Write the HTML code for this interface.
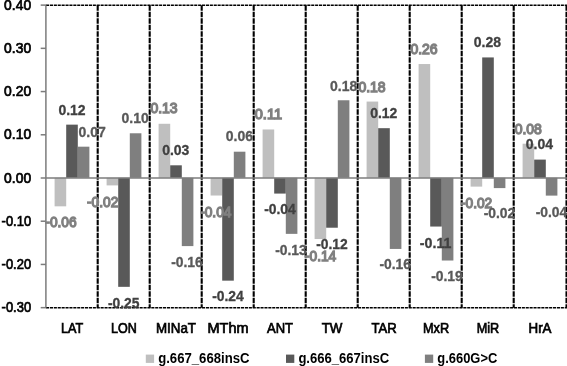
<!DOCTYPE html><html><head><meta charset="utf-8"><title>chart</title><style>html,body{margin:0;padding:0;background:#fff;overflow:hidden}svg{display:block;will-change:transform}text{font-family:"Liberation Sans",sans-serif}</style></head><body>
<svg width="567" height="366" viewBox="0 0 567 366">
<rect width="567" height="366" fill="#fff"/>
<g stroke="#000" fill="none">
<line x1="46.0" y1="5.2" x2="567" y2="5.2" stroke-width="1.6" stroke-dasharray="3.1 0.8"/>
<line x1="46.0" y1="307.7" x2="567" y2="307.7" stroke-width="1.6" stroke-dasharray="3.1 0.8"/>
<line x1="97.7" y1="5.2" x2="97.7" y2="307.7" stroke-width="2.1" stroke-dasharray="5.5 1"/>
<line x1="149.7" y1="5.2" x2="149.7" y2="307.7" stroke-width="2.1" stroke-dasharray="5.5 1"/>
<line x1="201.7" y1="5.2" x2="201.7" y2="307.7" stroke-width="2.1" stroke-dasharray="5.5 1"/>
<line x1="253.7" y1="5.2" x2="253.7" y2="307.7" stroke-width="2.1" stroke-dasharray="5.5 1"/>
<line x1="305.7" y1="5.2" x2="305.7" y2="307.7" stroke-width="2.1" stroke-dasharray="5.5 1"/>
<line x1="357.7" y1="5.2" x2="357.7" y2="307.7" stroke-width="2.1" stroke-dasharray="5.5 1"/>
<line x1="409.7" y1="5.2" x2="409.7" y2="307.7" stroke-width="2.1" stroke-dasharray="5.5 1"/>
<line x1="461.7" y1="5.2" x2="461.7" y2="307.7" stroke-width="2.1" stroke-dasharray="5.5 1"/>
<line x1="513.7" y1="5.2" x2="513.7" y2="307.7" stroke-width="2.1" stroke-dasharray="5.5 1"/>
<line x1="566.5" y1="5.2" x2="566.5" y2="307.7" stroke-width="2.1" stroke-dasharray="5.5 1"/>
</g>
<rect x="54.60" y="177.80" width="11.6" height="28.53" fill="#BFBFBF"/>
<rect x="66.20" y="124.64" width="11.6" height="53.16" fill="#595959"/>
<rect x="77.80" y="146.68" width="11.6" height="31.12" fill="#7F7F7F"/>
<rect x="106.60" y="177.80" width="11.6" height="7.61" fill="#BFBFBF"/>
<rect x="118.20" y="177.80" width="11.6" height="109.04" fill="#595959"/>
<rect x="129.80" y="133.28" width="11.6" height="44.52" fill="#7F7F7F"/>
<rect x="158.60" y="123.78" width="11.6" height="54.03" fill="#BFBFBF"/>
<rect x="170.20" y="165.31" width="11.6" height="12.49" fill="#595959"/>
<rect x="181.80" y="177.80" width="11.6" height="68.29" fill="#7F7F7F"/>
<rect x="210.60" y="177.80" width="11.6" height="17.72" fill="#BFBFBF"/>
<rect x="222.20" y="177.80" width="11.6" height="102.86" fill="#595959"/>
<rect x="233.80" y="151.70" width="11.6" height="26.10" fill="#7F7F7F"/>
<rect x="262.60" y="129.48" width="11.6" height="48.32" fill="#BFBFBF"/>
<rect x="274.20" y="177.80" width="11.6" height="15.78" fill="#595959"/>
<rect x="285.80" y="177.80" width="11.6" height="56.06" fill="#7F7F7F"/>
<rect x="314.60" y="177.80" width="11.6" height="61.24" fill="#BFBFBF"/>
<rect x="326.20" y="177.80" width="11.6" height="49.92" fill="#595959"/>
<rect x="337.80" y="100.26" width="11.6" height="77.54" fill="#7F7F7F"/>
<rect x="366.60" y="101.56" width="11.6" height="76.24" fill="#BFBFBF"/>
<rect x="378.20" y="128.18" width="11.6" height="49.62" fill="#595959"/>
<rect x="389.80" y="177.80" width="11.6" height="71.14" fill="#7F7F7F"/>
<rect x="418.60" y="64.04" width="11.6" height="113.76" fill="#BFBFBF"/>
<rect x="430.20" y="177.80" width="11.6" height="48.75" fill="#595959"/>
<rect x="441.80" y="177.80" width="11.6" height="82.72" fill="#7F7F7F"/>
<rect x="470.60" y="177.80" width="11.6" height="8.82" fill="#BFBFBF"/>
<rect x="482.20" y="57.43" width="11.6" height="120.37" fill="#595959"/>
<rect x="493.80" y="177.80" width="11.6" height="10.29" fill="#7F7F7F"/>
<rect x="522.60" y="143.70" width="11.6" height="34.10" fill="#BFBFBF"/>
<rect x="534.20" y="159.60" width="11.6" height="18.20" fill="#595959"/>
<rect x="545.80" y="177.80" width="11.6" height="17.81" fill="#7F7F7F"/>
<g stroke="#7c7c7c" stroke-width="1.5" fill="none">
<line x1="45.9" y1="5.2" x2="45.9" y2="307.7"/>
<line x1="46.0" y1="178.00" x2="567" y2="178.00"/>
<line x1="40.7" y1="5.12" x2="46.0" y2="5.12"/>
<line x1="40.7" y1="48.34" x2="46.0" y2="48.34"/>
<line x1="40.7" y1="91.56" x2="46.0" y2="91.56"/>
<line x1="40.7" y1="134.78" x2="46.0" y2="134.78"/>
<line x1="40.7" y1="178.00" x2="46.0" y2="178.00"/>
<line x1="40.7" y1="221.22" x2="46.0" y2="221.22"/>
<line x1="40.7" y1="264.44" x2="46.0" y2="264.44"/>
<line x1="40.7" y1="307.66" x2="46.0" y2="307.66"/>
</g>
<g opacity="0.999">
<text x="31.1" y="9.62" font-size="14" text-anchor="end" fill="#000" stroke="#000" stroke-width="0.7" textLength="27" lengthAdjust="spacingAndGlyphs">0.40</text>
<text x="31.1" y="52.84" font-size="14" text-anchor="end" fill="#000" stroke="#000" stroke-width="0.7" textLength="27" lengthAdjust="spacingAndGlyphs">0.30</text>
<text x="31.1" y="96.06" font-size="14" text-anchor="end" fill="#000" stroke="#000" stroke-width="0.7" textLength="27" lengthAdjust="spacingAndGlyphs">0.20</text>
<text x="31.1" y="139.28" font-size="14" text-anchor="end" fill="#000" stroke="#000" stroke-width="0.7" textLength="27" lengthAdjust="spacingAndGlyphs">0.10</text>
<text x="31.1" y="182.50" font-size="14" text-anchor="end" fill="#000" stroke="#000" stroke-width="0.7" textLength="27" lengthAdjust="spacingAndGlyphs">0.00</text>
<text x="31.1" y="225.72" font-size="14" text-anchor="end" fill="#000" stroke="#000" stroke-width="0.7" textLength="29.5" lengthAdjust="spacingAndGlyphs">-0.10</text>
<text x="31.1" y="268.94" font-size="14" text-anchor="end" fill="#000" stroke="#000" stroke-width="0.7" textLength="29.5" lengthAdjust="spacingAndGlyphs">-0.20</text>
<text x="31.1" y="312.16" font-size="14" text-anchor="end" fill="#000" stroke="#000" stroke-width="0.7" textLength="29.5" lengthAdjust="spacingAndGlyphs">-0.30</text>
<text x="72.0" y="333" font-size="14" text-anchor="middle" fill="#000" stroke="#000" stroke-width="0.7" textLength="22.2" lengthAdjust="spacingAndGlyphs">LAT</text>
<text x="124.0" y="333" font-size="14" text-anchor="middle" fill="#000" stroke="#000" stroke-width="0.7" textLength="25.8" lengthAdjust="spacingAndGlyphs">LON</text>
<text x="176.0" y="333" font-size="14" text-anchor="middle" fill="#000" stroke="#000" stroke-width="0.7" textLength="40" lengthAdjust="spacingAndGlyphs">MINaT</text>
<text x="228.0" y="333" font-size="14" text-anchor="middle" fill="#000" stroke="#000" stroke-width="0.7" textLength="41" lengthAdjust="spacingAndGlyphs">MThm</text>
<text x="280.0" y="333" font-size="14" text-anchor="middle" fill="#000" stroke="#000" stroke-width="0.7" textLength="26" lengthAdjust="spacingAndGlyphs">ANT</text>
<text x="332.0" y="333" font-size="14" text-anchor="middle" fill="#000" stroke="#000" stroke-width="0.7" textLength="20.7" lengthAdjust="spacingAndGlyphs">TW</text>
<text x="384.0" y="333" font-size="14" text-anchor="middle" fill="#000" stroke="#000" stroke-width="0.7" textLength="25.2" lengthAdjust="spacingAndGlyphs">TAR</text>
<text x="436.0" y="333" font-size="14" text-anchor="middle" fill="#000" stroke="#000" stroke-width="0.7" textLength="26.2" lengthAdjust="spacingAndGlyphs">MxR</text>
<text x="488.0" y="333" font-size="14" text-anchor="middle" fill="#000" stroke="#000" stroke-width="0.7" textLength="22.5" lengthAdjust="spacingAndGlyphs">MiR</text>
<text x="540.0" y="333" font-size="14" text-anchor="middle" fill="#000" stroke="#000" stroke-width="0.7" textLength="23" lengthAdjust="spacingAndGlyphs">HrA</text>
<text x="61" y="226.9" font-size="14" text-anchor="middle" fill="#808080" stroke="#808080" stroke-width="1.3" textLength="31.3" lengthAdjust="spacingAndGlyphs">-0.06</text>
<text x="72" y="114.7" font-size="14" font-weight="bold" text-anchor="middle" fill="#404040" stroke="#404040" stroke-width="0.3" textLength="27.2" lengthAdjust="spacingAndGlyphs">0.12</text>
<text x="92.1" y="137" font-size="14" font-weight="bold" text-anchor="middle" fill="#595959" stroke="#595959" stroke-width="0.3" textLength="27.2" lengthAdjust="spacingAndGlyphs">0.07</text>
<text x="102.7" y="206.6" font-size="14" text-anchor="middle" fill="#808080" stroke="#808080" stroke-width="1.3" textLength="31.3" lengthAdjust="spacingAndGlyphs">-0.02</text>
<text x="123.7" y="307.5" font-size="14" font-weight="bold" text-anchor="middle" fill="#404040" stroke="#404040" stroke-width="0.3" textLength="31.6" lengthAdjust="spacingAndGlyphs">-0.25</text>
<text x="135.1" y="122.8" font-size="14" font-weight="bold" text-anchor="middle" fill="#595959" stroke="#595959" stroke-width="0.3" textLength="27.2" lengthAdjust="spacingAndGlyphs">0.10</text>
<text x="164" y="113" font-size="14" text-anchor="middle" fill="#808080" stroke="#808080" stroke-width="1.3" textLength="27.2" lengthAdjust="spacingAndGlyphs">0.13</text>
<text x="175.8" y="154.7" font-size="14" font-weight="bold" text-anchor="middle" fill="#404040" stroke="#404040" stroke-width="0.3" textLength="27.2" lengthAdjust="spacingAndGlyphs">0.03</text>
<text x="187" y="267" font-size="14" font-weight="bold" text-anchor="middle" fill="#595959" stroke="#595959" stroke-width="0.3" textLength="31.6" lengthAdjust="spacingAndGlyphs">-0.16</text>
<text x="215.8" y="217.2" font-size="14" text-anchor="middle" fill="#808080" stroke="#808080" stroke-width="1.3" textLength="31.3" lengthAdjust="spacingAndGlyphs">-0.04</text>
<text x="228" y="301.1" font-size="14" font-weight="bold" text-anchor="middle" fill="#404040" stroke="#404040" stroke-width="0.3" textLength="31.6" lengthAdjust="spacingAndGlyphs">-0.24</text>
<text x="239.4" y="141.1" font-size="14" font-weight="bold" text-anchor="middle" fill="#595959" stroke="#595959" stroke-width="0.3" textLength="27.2" lengthAdjust="spacingAndGlyphs">0.06</text>
<text x="268.4" y="118.8" font-size="14" text-anchor="middle" fill="#808080" stroke="#808080" stroke-width="1.3" textLength="27.2" lengthAdjust="spacingAndGlyphs">0.11</text>
<text x="280" y="214" font-size="14" font-weight="bold" text-anchor="middle" fill="#404040" stroke="#404040" stroke-width="0.3" textLength="31.6" lengthAdjust="spacingAndGlyphs">-0.04</text>
<text x="291" y="255.3" font-size="14" font-weight="bold" text-anchor="middle" fill="#595959" stroke="#595959" stroke-width="0.3" textLength="31.6" lengthAdjust="spacingAndGlyphs">-0.13</text>
<text x="320.6" y="260.5" font-size="14" text-anchor="middle" fill="#808080" stroke="#808080" stroke-width="1.3" textLength="31.3" lengthAdjust="spacingAndGlyphs">-0.14</text>
<text x="332" y="248.6" font-size="14" font-weight="bold" text-anchor="middle" fill="#404040" stroke="#404040" stroke-width="0.3" textLength="31.6" lengthAdjust="spacingAndGlyphs">-0.12</text>
<text x="343.6" y="90.5" font-size="14" font-weight="bold" text-anchor="middle" fill="#595959" stroke="#595959" stroke-width="0.3" textLength="27.2" lengthAdjust="spacingAndGlyphs">0.18</text>
<text x="372" y="91.8" font-size="14" text-anchor="middle" fill="#808080" stroke="#808080" stroke-width="1.3" textLength="27.2" lengthAdjust="spacingAndGlyphs">0.18</text>
<text x="383.8" y="118" font-size="14" font-weight="bold" text-anchor="middle" fill="#404040" stroke="#404040" stroke-width="0.3" textLength="27.2" lengthAdjust="spacingAndGlyphs">0.12</text>
<text x="395.2" y="269.1" font-size="14" font-weight="bold" text-anchor="middle" fill="#595959" stroke="#595959" stroke-width="0.3" textLength="31.6" lengthAdjust="spacingAndGlyphs">-0.16</text>
<text x="424" y="53.6" font-size="14" text-anchor="middle" fill="#808080" stroke="#808080" stroke-width="1.3" textLength="27.2" lengthAdjust="spacingAndGlyphs">0.26</text>
<text x="435.6" y="248.2" font-size="14" font-weight="bold" text-anchor="middle" fill="#404040" stroke="#404040" stroke-width="0.3" textLength="31.6" lengthAdjust="spacingAndGlyphs">-0.11</text>
<text x="447" y="280.6" font-size="14" font-weight="bold" text-anchor="middle" fill="#595959" stroke="#595959" stroke-width="0.3" textLength="31.6" lengthAdjust="spacingAndGlyphs">-0.19</text>
<text x="476.6" y="208" font-size="14" text-anchor="middle" fill="#808080" stroke="#808080" stroke-width="1.3" textLength="31.3" lengthAdjust="spacingAndGlyphs">-0.02</text>
<text x="487.4" y="47.4" font-size="14" font-weight="bold" text-anchor="middle" fill="#404040" stroke="#404040" stroke-width="0.3" textLength="27.2" lengthAdjust="spacingAndGlyphs">0.28</text>
<text x="499.5" y="217.5" font-size="14" font-weight="bold" text-anchor="middle" fill="#595959" stroke="#595959" stroke-width="0.3" textLength="31.6" lengthAdjust="spacingAndGlyphs">-0.02</text>
<text x="528.3" y="133.6" font-size="14" text-anchor="middle" fill="#808080" stroke="#808080" stroke-width="1.3" textLength="27.2" lengthAdjust="spacingAndGlyphs">0.08</text>
<text x="539.4" y="149.1" font-size="14" font-weight="bold" text-anchor="middle" fill="#404040" stroke="#404040" stroke-width="0.3" textLength="27.2" lengthAdjust="spacingAndGlyphs">0.04</text>
<text x="551.5" y="216.6" font-size="14" font-weight="bold" text-anchor="middle" fill="#595959" stroke="#595959" stroke-width="0.3" textLength="31.6" lengthAdjust="spacingAndGlyphs">-0.04</text>
<rect x="145.8" y="354.6" width="8.3" height="8.3" fill="#BFBFBF"/>
<text x="158.20000000000002" y="362.5" font-size="14" font-weight="bold" fill="#000" textLength="91.3" lengthAdjust="spacingAndGlyphs">g.667_668insC</text>
<rect x="286" y="354.6" width="8.3" height="8.3" fill="#595959"/>
<text x="298.4" y="362.5" font-size="14" font-weight="bold" fill="#000" textLength="90.8" lengthAdjust="spacingAndGlyphs">g.666_667insC</text>
<rect x="424.9" y="354.6" width="8.3" height="8.3" fill="#7F7F7F"/>
<text x="437.29999999999995" y="362.5" font-size="14" font-weight="bold" fill="#000" textLength="60" lengthAdjust="spacingAndGlyphs">g.660G&gt;C</text>
</g>
</svg></body></html>
